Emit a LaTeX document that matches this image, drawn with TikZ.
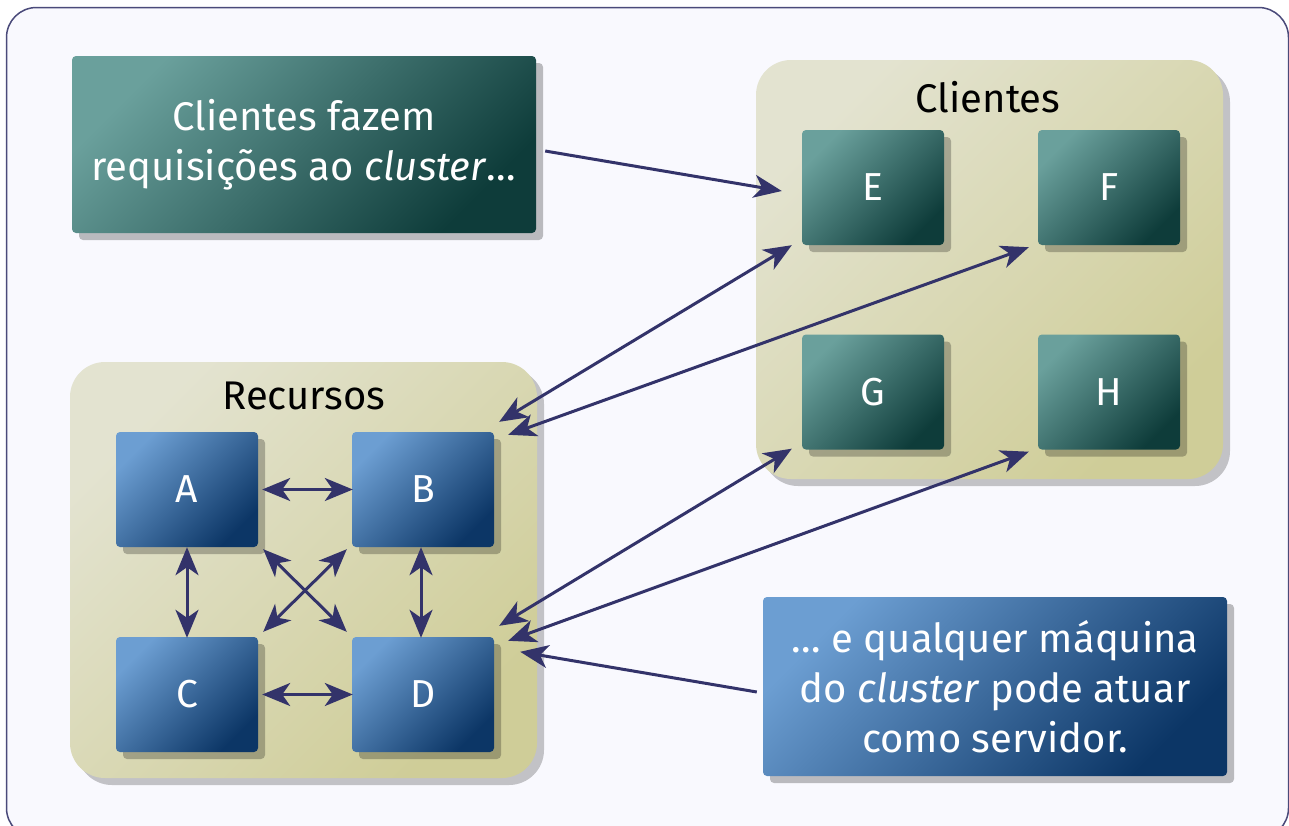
\documentclass[tikz,border=0pt]{standalone}
\usepackage{fontspec}
\setmainfont{Fira Sans}
\usetikzlibrary{arrows.meta,calc,shadows}
\definecolor{bg}{HTML}{F9F9FE}
\definecolor{framec}{HTML}{4A4A7A}
\definecolor{tealL}{HTML}{6AA09C}
\definecolor{tealD}{HTML}{0E3C3A}
\definecolor{blueL}{HTML}{6C9ED2}
\definecolor{blueD}{HTML}{0C3666}
\definecolor{khakiL}{HTML}{E3E3D0}
\definecolor{khakiD}{HTML}{CFCD98}
\definecolor{arrowc}{HTML}{33336A}
\tikzset{
  shad/.style={drop shadow={shadow xshift=7pt, shadow yshift=-7pt, opacity=0.25, fill=black}},
  tealfill/.style={top color=tealL, bottom color=tealD, shading angle=45},
  bluefill/.style={top color=blueL, bottom color=blueD, shading angle=45},
  machine/.style={shad, rounded corners=4pt, minimum width=142pt, minimum height=115pt,
    inner sep=0pt, text=white, font=\fontsize{39}{44}\selectfont},
  callout/.style={shad, rounded corners=4pt, inner sep=0pt, text=white, align=center,
    font=\fontsize{40}{50}\selectfont},
  groupbox/.style={drop shadow={shadow xshift=7pt, shadow yshift=-7pt, opacity=0.22, fill=black},
    rounded corners=35pt, top color=khakiL, bottom color=khakiD, shading angle=45,
    inner sep=0pt},
  grouplabel/.style={text=black, font=\fontsize{40}{44}\selectfont, inner sep=0pt},
  arr/.style={draw=arrowc, line width=3pt,
    {Stealth[length=28pt,width=23pt,inset=8pt]}-{Stealth[length=28pt,width=23pt,inset=8pt]}},
  arrone/.style={draw=arrowc, line width=3pt,
    -{Stealth[length=28pt,width=23pt,inset=8pt]}},
}
\begin{document}
\begin{tikzpicture}[x=1pt,y=-1pt]
\useasboundingbox (0,0) rectangle (1289,825);
\clip (0,0) rectangle (1289,825);
\fill[white] (0,0) rectangle (1289,825);
\draw[framec, line width=1.5pt, fill=bg, rounded corners=30pt] (6.5,7.5) rectangle (1288.5,838);

% groups
\node[groupbox, minimum width=467pt, minimum height=419pt] (clientes) at (989.5,269.5) {};
\node[grouplabel] (clientesLbl) at (988,97) {Clientes};
\node[groupbox, minimum width=467pt, minimum height=416pt] (recursos) at (303.5,570) {};
\node[grouplabel] (recursosLbl) at (304,396) {Recursos};

% callouts
\node[callout, tealfill, minimum width=464pt, minimum height=177pt] (req) at (304,144.5)
  {Clientes fazem\\requisições ao \textit{cluster}\ldots};
\node[callout, bluefill, minimum width=464pt, minimum height=179pt] (serv) at (995,686.5)
  {\ldots{} e qualquer máquina\\do \textit{cluster} pode atuar\\como servidor.};

% machines
\node[machine, bluefill] (A) at (187,489.5) {A};
\node[machine, bluefill] (B) at (423,489.5) {B};
\node[machine, bluefill] (C) at (187,694.5) {C};
\node[machine, bluefill] (D) at (423,694.5) {D};
\node[machine, tealfill] (E) at (873,187.5) {E};
\node[machine, tealfill] (F) at (1109,187.5) {F};
\node[machine, tealfill] (G) at (873,392) {G};
\node[machine, tealfill] (H) at (1109,392) {H};

% inner arrows
\draw[arr] ($(A.east)+(4,0)$) -- ($(B.west)+(1,0)$);
\draw[arr] ($(C.east)+(4,0)$) -- ($(D.west)+(1,0)$);
\draw[arr] ($(A.south)+(0,0)$) -- ($(C.north)+(0,1)$);
\draw[arr] ($(B.south)+(-2,0)$) -- ($(D.north)+(-2,1)$);
\draw[arr] ($(A.south east)+(5,2)$) -- ($(D.north west)+(-5,-5)$);
\draw[arr] ($(B.south west)+(-5,2)$) -- ($(C.north east)+(5,-5)$);

% long arrows
\draw[arr] ($(B.north east)+(5,-10)$) -- ($(E.south west)+(-10,0)$);
\draw[arr] ($(B.north east)+(14,3)$) -- ($(F.south west)+(-9,2)$);
\draw[arr] ($(D.north east)+(5,-11)$) -- ($(G.south west)+(-10,-1)$);
\draw[arr] ($(D.north east)+(14,4)$) -- ($(H.south west)+(-9,2)$);
\draw[arrone] ($(req.east)+(9,6.5)$) -- ($(E.west)+(-20,3.5)$);
\draw[arrone] ($(serv.west)+(-6,5.5)$) -- ($(D.north east)+(26,15)$);
\end{tikzpicture}
\end{document}
